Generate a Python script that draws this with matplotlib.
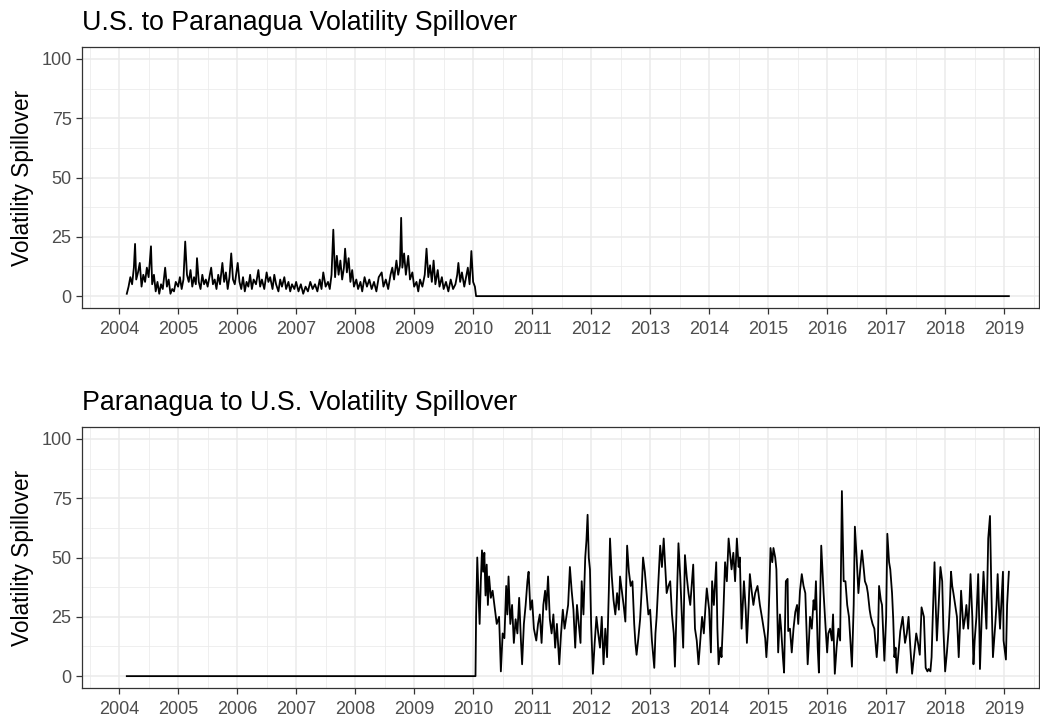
import matplotlib
matplotlib.use("Agg")
import matplotlib.pyplot as plt
import numpy as np

plt.rcParams['font.family'] = ['Liberation Sans', 'DejaVu Sans']

# U.S. -> Paranagua (decimal year, spillover)
us_par_year = [2004.13, 2004.16, 2004.19, 2004.22, 2004.25, 2004.27, 2004.29, 2004.32, 2004.35, 2004.38,
               2004.41, 2004.44, 2004.47, 2004.5, 2004.54, 2004.56, 2004.59, 2004.62, 2004.65, 2004.68,
               2004.71, 2004.74, 2004.78, 2004.81, 2004.84, 2004.87, 2004.9, 2004.93, 2004.96, 2005.0,
               2005.03, 2005.06, 2005.09, 2005.12, 2005.15, 2005.18, 2005.21, 2005.24, 2005.27, 2005.3,
               2005.32, 2005.35, 2005.38, 2005.41, 2005.44, 2005.47, 2005.5, 2005.53, 2005.56, 2005.59,
               2005.62, 2005.65, 2005.68, 2005.71, 2005.75, 2005.78, 2005.81, 2005.84, 2005.87, 2005.9,
               2005.93, 2005.96, 2006.01, 2006.04, 2006.07, 2006.1, 2006.13, 2006.16, 2006.19, 2006.22,
               2006.25, 2006.28, 2006.32, 2006.36, 2006.39, 2006.42, 2006.46, 2006.5, 2006.53, 2006.56,
               2006.6, 2006.63, 2006.66, 2006.7, 2006.73, 2006.76, 2006.8, 2006.83, 2006.87, 2006.9,
               2006.93, 2006.97, 2007.0, 2007.04, 2007.08, 2007.12, 2007.16, 2007.2, 2007.24, 2007.28,
               2007.32, 2007.36, 2007.4, 2007.43, 2007.46, 2007.5, 2007.54, 2007.57, 2007.6, 2007.63,
               2007.66, 2007.69, 2007.72, 2007.75, 2007.78, 2007.81, 2007.83, 2007.86, 2007.89, 2007.92,
               2007.95, 2007.98, 2008.02, 2008.05, 2008.09, 2008.12, 2008.16, 2008.2, 2008.24, 2008.28,
               2008.32, 2008.36, 2008.4, 2008.45, 2008.48, 2008.52, 2008.56, 2008.6, 2008.63, 2008.66,
               2008.7, 2008.73, 2008.76, 2008.78, 2008.8, 2008.83, 2008.86, 2008.9, 2008.93, 2008.97,
               2009.0, 2009.04, 2009.07, 2009.1, 2009.14, 2009.18, 2009.21, 2009.24, 2009.27, 2009.3,
               2009.33, 2009.36, 2009.4, 2009.43, 2009.47, 2009.5, 2009.54, 2009.58, 2009.62, 2009.66,
               2009.7, 2009.73, 2009.75, 2009.78, 2009.81, 2009.85, 2009.88, 2009.91, 2009.94, 2009.97,
               2010.0, 2010.03, 2010.05, 2019.08]
us_par_val = [1, 4, 8, 5, 12, 22, 7, 10, 14, 4,
              9, 6, 12, 8, 21, 5, 9, 2, 6, 1,
              5, 3, 12, 4, 7, 1, 3, 2, 6, 4,
              8, 3, 7, 23, 9, 6, 11, 4, 8, 5,
              16, 6, 3, 9, 5, 7, 4, 8, 12, 5,
              7, 3, 9, 5, 14, 6, 10, 3, 8, 18,
              7, 5, 14, 6, 3, 8, 2, 6, 4, 9,
              3, 7, 5, 11, 4, 7, 3, 10, 6, 8,
              3, 9, 5, 2, 7, 4, 8, 3, 6, 2,
              5, 3, 6, 2, 5, 1, 4, 2, 6, 3,
              5, 2, 7, 3, 10, 4, 6, 3, 9, 28,
              8, 17, 9, 15, 7, 12, 20, 10, 16, 6,
              11, 4, 7, 3, 6, 2, 8, 4, 7, 3,
              6, 2, 8, 10, 4, 7, 3, 9, 12, 7,
              15, 9, 13, 33, 12, 18, 9, 17, 7, 10,
              4, 6, 2, 7, 4, 9, 20, 8, 13, 6,
              15, 5, 11, 4, 8, 3, 6, 2, 7, 3,
              5, 9, 14, 6, 10, 4, 8, 12, 5, 19,
              6, 4, 0, 0]

# Paranagua -> U.S.
par_us_year = [2004.13, 2010.04, 2010.05, 2010.07, 2010.09, 2010.11, 2010.13, 2010.15, 2010.17, 2010.19,
               2010.21, 2010.23, 2010.25, 2010.27, 2010.3, 2010.33, 2010.37, 2010.4, 2010.44, 2010.47,
               2010.5, 2010.53, 2010.56, 2010.58, 2010.6, 2010.63, 2010.66, 2010.69, 2010.72, 2010.75,
               2010.78, 2010.81, 2010.83, 2010.86, 2010.89, 2010.92, 2010.94, 2010.97, 2011.0, 2011.03,
               2011.07, 2011.1, 2011.13, 2011.16, 2011.19, 2011.22, 2011.24, 2011.27, 2011.3, 2011.33,
               2011.36, 2011.39, 2011.42, 2011.46, 2011.49, 2011.52, 2011.55, 2011.58, 2011.61, 2011.64,
               2011.67, 2011.7, 2011.73, 2011.76, 2011.79, 2011.82, 2011.84, 2011.87, 2011.9, 2011.92,
               2011.94, 2011.96, 2011.98, 2012.0, 2012.03, 2012.06, 2012.09, 2012.12, 2012.15, 2012.18,
               2012.21, 2012.24, 2012.27, 2012.3, 2012.32, 2012.35, 2012.38, 2012.41, 2012.44, 2012.47,
               2012.49, 2012.52, 2012.55, 2012.58, 2012.61, 2012.64, 2012.67, 2012.7, 2012.73, 2012.75,
               2012.77, 2012.8, 2012.83, 2012.86, 2012.88, 2012.91, 2012.94, 2012.97, 2013.0, 2013.03,
               2013.07, 2013.09, 2013.11, 2013.14, 2013.17, 2013.2, 2013.23, 2013.26, 2013.28, 2013.31,
               2013.34, 2013.37, 2013.4, 2013.42, 2013.45, 2013.48, 2013.51, 2013.53, 2013.56, 2013.59,
               2013.62, 2013.65, 2013.68, 2013.71, 2013.73, 2013.76, 2013.79, 2013.82, 2013.85, 2013.88,
               2013.91, 2013.94, 2013.96, 2014.0, 2014.03, 2014.05, 2014.08, 2014.12, 2014.14, 2014.16,
               2014.19, 2014.21, 2014.24, 2014.27, 2014.3, 2014.33, 2014.36, 2014.38, 2014.41, 2014.44,
               2014.47, 2014.5, 2014.52, 2014.55, 2014.57, 2014.59, 2014.62, 2014.64, 2014.67, 2014.69,
               2014.72, 2014.75, 2014.78, 2014.82, 2014.86, 2014.9, 2014.95, 2014.97, 2015.0, 2015.02,
               2015.04, 2015.07, 2015.09, 2015.12, 2015.14, 2015.17, 2015.2, 2015.22, 2015.25, 2015.27,
               2015.3, 2015.33, 2015.34, 2015.37, 2015.4, 2015.43, 2015.46, 2015.49, 2015.51, 2015.54,
               2015.57, 2015.6, 2015.63, 2015.65, 2015.67, 2015.69, 2015.71, 2015.74, 2015.77, 2015.79,
               2015.81, 2015.84, 2015.86, 2015.88, 2015.9, 2015.92, 2015.94, 2015.97, 2016.0, 2016.02,
               2016.05, 2016.08, 2016.1, 2016.13, 2016.16, 2016.19, 2016.22, 2016.25, 2016.28, 2016.31,
               2016.34, 2016.37, 2016.4, 2016.42, 2016.45, 2016.47, 2016.5, 2016.53, 2016.56, 2016.59,
               2016.61, 2016.64, 2016.67, 2016.69, 2016.72, 2016.74, 2016.77, 2016.8, 2016.84, 2016.86,
               2016.88, 2016.91, 2016.93, 2016.97, 2017.0, 2017.02, 2017.05, 2017.07, 2017.1, 2017.12,
               2017.14, 2017.16, 2017.18, 2017.21, 2017.24, 2017.28, 2017.32, 2017.35, 2017.38, 2017.41,
               2017.44, 2017.47, 2017.51, 2017.54, 2017.57, 2017.6, 2017.64, 2017.67, 2017.7, 2017.72,
               2017.75, 2017.77, 2017.79, 2017.82, 2017.84, 2017.86, 2017.89, 2017.92, 2017.95, 2017.97,
               2018.0, 2018.03, 2018.06, 2018.08, 2018.1, 2018.12, 2018.14, 2018.17, 2018.2, 2018.23,
               2018.25, 2018.27, 2018.29, 2018.31, 2018.34, 2018.36, 2018.39, 2018.41, 2018.43, 2018.46,
               2018.48, 2018.5, 2018.53, 2018.56, 2018.58, 2018.59, 2018.62, 2018.65, 2018.68, 2018.7,
               2018.73, 2018.76, 2018.78, 2018.81, 2018.85, 2018.87, 2018.89, 2018.91, 2018.93, 2018.96,
               2018.98, 2018.99, 2019.03, 2019.05, 2019.08]
par_us_val = [0, 0, 25, 50, 35, 22, 40, 53, 44, 52,
              34, 47, 30, 42, 33, 36, 28, 22, 25, 2,
              18, 16, 38, 26, 42, 22, 30, 14, 24, 18,
              33, 15, 5, 22, 30, 40, 44, 28, 32, 20,
              15, 22, 26, 14, 30, 36, 28, 42, 24, 18,
              26, 12, 22, 5, 18, 28, 20, 25, 30, 46,
              36, 28, 12, 30, 22, 14, 40, 26, 50, 57,
              68, 50, 45, 22, 1, 14, 25, 18, 12, 25,
              5, 20, 8, 36, 58, 42, 32, 26, 35, 28,
              42, 36, 30, 23, 55, 44, 38, 40, 22, 14,
              9, 16, 24, 38, 50, 44, 35, 26, 28, 15,
              3.5, 18, 25, 40, 55, 46, 58, 44, 35, 38,
              40, 26, 18, 4, 30, 56, 42, 30, 12, 51,
              42, 35, 30, 40, 47, 20, 15, 5, 15, 25,
              18, 30, 37, 28, 10, 40, 30, 48, 20, 5,
              12, 8, 26, 48, 40, 58, 50, 45, 52, 40,
              58, 46, 50, 20, 30, 40, 28, 14, 30, 43,
              36, 30, 35, 38, 30, 24, 16, 8, 20, 35,
              54, 48, 54, 50, 45, 10, 26, 20, 8, 1.5,
              40, 41, 19, 20, 10, 20, 27, 30, 22, 36,
              43, 38, 35, 20, 5, 14, 25, 20, 32, 28,
              40, 12, 1.5, 30, 55, 45, 35, 22, 10, 18,
              20, 15, 26, 1, 12, 20, 15, 78, 40, 40,
              30, 25, 12, 4, 30, 63, 50, 35, 45, 53,
              48, 40, 38, 35, 28, 25, 22, 20, 8, 15,
              38, 32, 30, 6.5, 25, 60, 48, 45, 35, 24,
              8, 12, 1.4, 10, 19, 25, 14, 18, 25, 12,
              1, 8, 18, 14, 9, 29, 25, 3.5, 2, 3,
              2, 8, 25, 48, 30, 15, 30, 46, 40, 20,
              2, 10, 20, 30, 44, 38, 35, 30, 25, 8,
              20, 36, 28, 20, 25, 30, 20, 30, 43, 25,
              5, 15, 25, 43, 20, 3, 25, 44, 30, 20,
              58, 67.5, 40, 8, 22, 30, 43, 30, 20, 34,
              44, 15, 7, 30, 44]

titles = ["U.S. to Paranagua Volatility Spillover", "Paranagua to U.S. Volatility Spillover"]
year_ticks = list(range(2004, 2020))
y_ticks = [0, 25, 50, 75, 100]

fig = plt.figure(figsize=(10.4, 7.19), dpi=100)
# panels: top y 47..308 px, bottom y 427..688 px
ax1 = fig.add_axes([0.0788, 1 - 308 / 719, 0.9202, 261 / 719])
ax2 = fig.add_axes([0.0788, 1 - 688 / 719, 0.9202, 261 / 719])

grey_grid = "#EBEBEB"
for ax, xs, ys, title in [(ax1, us_par_year, us_par_val, titles[0]),
                          (ax2, par_us_year, par_us_val, titles[1])]:
    ax.plot(xs, ys, color="black", lw=1.3, zorder=3)
    ax.set_xlim(2003.37, 2019.59)
    ax.set_ylim(-5, 105)
    ax.set_xticks(year_ticks)
    ax.set_xticks([y + 0.5 for y in year_ticks[:-1]] + [2003.5, 2019.5], minor=True)
    ax.set_yticks(y_ticks)
    ax.set_yticks([12.5, 37.5, 62.5, 87.5], minor=True)
    ax.grid(which="major", color=grey_grid, lw=1.1)
    ax.grid(which="minor", color=grey_grid, lw=0.55)
    ax.set_axisbelow(True)
    ax.tick_params(which="major", length=4.5, width=0.9, color="#333333",
                   labelcolor="#4D4D4D", labelsize=13)
    ax.tick_params(axis="x", which="major", pad=5)
    ax.tick_params(axis="y", which="major", pad=3)
    ax.tick_params(which="minor", length=0)
    for sp in ax.spines.values():
        sp.set_color("#333333")
        sp.set_linewidth(0.9)
    ax.set_ylabel("Volatility Spillover", fontsize=16.3, labelpad=5)
    ax.set_title(title, loc="left", fontsize=19.3, pad=12)

fig.savefig("out.png", dpi=100)
